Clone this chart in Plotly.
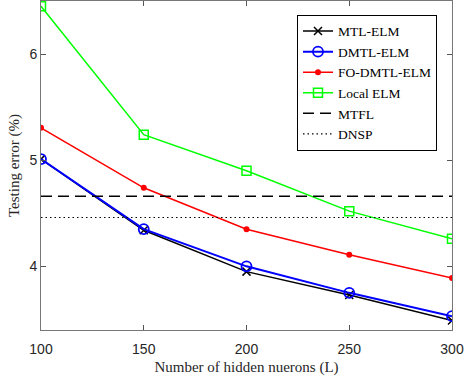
import plotly.graph_objects as go

L = [100, 150, 200, 250, 300]
mtl_elm = [5.01, 4.34, 3.95, 3.73, 3.49]
dmtl_elm = [5.01, 4.35, 4.00, 3.75, 3.53]
fo_dmtl_elm = [5.305, 4.74, 4.35, 4.11, 3.89]
local_elm = [6.45, 5.24, 4.90, 4.52, 4.26]
mtfl = 4.66
dnsp = 4.46

fig = go.Figure()
fig.add_trace(go.Scatter(x=L, y=mtl_elm, name="MTL-ELM", mode="lines+markers",
                         line=dict(color="black", width=1.5),
                         marker=dict(symbol="x-thin", size=8, line=dict(color="black", width=1.5))))
fig.add_trace(go.Scatter(x=L, y=dmtl_elm, name="DMTL-ELM", mode="lines+markers",
                         line=dict(color="#0000ff", width=2),
                         marker=dict(symbol="circle-open", size=10, color="#0000ff", line=dict(width=1.8))))
fig.add_trace(go.Scatter(x=L, y=fo_dmtl_elm, name="FO-DMTL-ELM", mode="lines+markers",
                         line=dict(color="#ff0000", width=1.5),
                         marker=dict(symbol="circle", size=6, color="#ff0000")))
fig.add_trace(go.Scatter(x=L, y=local_elm, name="Local ELM", mode="lines+markers",
                         line=dict(color="#00ff00", width=1.5),
                         marker=dict(symbol="square-open", size=9, color="#00ff00", line=dict(width=1.5))))
fig.add_trace(go.Scatter(x=[L[0], L[-1]], y=[mtfl, mtfl], name="MTFL", mode="lines",
                         line=dict(color="black", width=1.5, dash="11px,6px")))
fig.add_trace(go.Scatter(x=[L[0], L[-1]], y=[dnsp, dnsp], name="DNSP", mode="lines",
                         line=dict(color="black", width=1.2, dash="1.5px,3px")))

axis_common = dict(showgrid=False, zeroline=False, showline=True, linecolor="#777777",
                   linewidth=1, mirror="ticks", ticks="inside", ticklen=5,
                   tickcolor="#555555", tickfont=dict(family="Liberation Sans", size=14, color="#262626"))

fig.update_xaxes(range=[100, 300], tickvals=[100, 150, 200, 250, 300], ticklabelstandoff=6,
                 title=dict(text="Number of hidden nuerons (L)", standoff=5,
                            font=dict(family="Liberation Serif", size=15, color="#262626")),
                 **axis_common)
fig.update_yaxes(range=[3.4, 6.5], tickvals=[4, 5, 6],
                 title=dict(text="Testing error (%)", standoff=6,
                            font=dict(family="Liberation Serif", size=15, color="#262626")),
                 **axis_common)

fig.update_layout(
    width=464, height=379,
    margin=dict(l=41, r=12, t=1, b=49),
    plot_bgcolor="white", paper_bgcolor="white",
    showlegend=True,
    legend=dict(x=0.9635, y=0.958, xanchor="right", yanchor="top",
                bgcolor="white", bordercolor="black", borderwidth=1,
                font=dict(family="Liberation Serif", size=13.5, color="black"),
                tracegroupgap=0, itemwidth=30),
)

fig.write_html("out.html")
